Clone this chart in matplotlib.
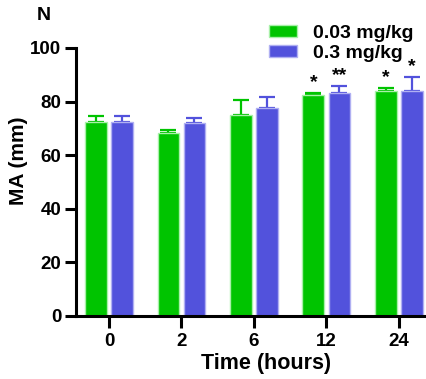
import matplotlib
matplotlib.use("Agg")
import matplotlib.pyplot as plt
import numpy as np

plt.rcParams['font.family'] = ['Liberation Sans', 'DejaVu Sans']
plt.rcParams['font.weight'] = 'bold'

# Data
times = ["0", "2", "6", "12", "24"]
low_dose_mean = [72.4, 68.4, 75.1, 82.5, 83.8]
low_dose_err = [2.3, 1.0, 5.6, 0.8, 1.3]
high_dose_mean = [72.4, 72.0, 77.7, 83.2, 84.0]
high_dose_err = [2.3, 1.9, 4.0, 2.6, 5.3]
low_dose_sig = ["", "", "", "*", "*"]
high_dose_sig = ["", "", "", "**", "*"]
series_labels = ["0.03 mg/kg", "0.3 mg/kg"]

green = "#00c400"
blue = "#5252dc"
green_edge = "#a8f0a8"
blue_edge = "#b0b0f2"

W, H = 427, 379
fig = plt.figure(figsize=(W / 100, H / 100), dpi=100)
ax = fig.add_axes([76 / W, (H - 316) / H, 362 / W, 268 / H])

x = np.arange(len(times))
bw = 0.30
off = 0.18

err_kw = dict(lw=1.6, capsize=6, capthick=1.6)
b1 = ax.bar(x - off, low_dose_mean, bw, color=green, edgecolor=green_edge,
            linewidth=1.0, label=series_labels[0], zorder=2)
ax.errorbar(x - off, low_dose_mean, yerr=[np.zeros(len(x)), low_dose_err],
            fmt="none", ecolor=green, zorder=1, **err_kw)
b2 = ax.bar(x + off, high_dose_mean, bw, color=blue, edgecolor=blue_edge,
            linewidth=1.0, label=series_labels[1], zorder=2)
ax.errorbar(x + off, high_dose_mean, yerr=[np.zeros(len(x)), high_dose_err],
            fmt="none", ecolor=blue, zorder=1, **err_kw)

for xi, m, e, s in zip(x - off, low_dose_mean, low_dose_err, low_dose_sig):
    if s:
        ax.text(xi, m + e + 0.6, s, ha="center", va="bottom", fontsize=14,
                fontweight="bold")
for xi, m, e, s in zip(x + off, high_dose_mean, high_dose_err, high_dose_sig):
    if s:
        ax.text(xi, m + e + 0.6, s, ha="center", va="bottom", fontsize=14,
                fontweight="bold")

ax.set_xlim(-0.455, 4.54)
ax.set_ylim(0, 100)
ax.set_xticks(x)
ax.set_xticklabels(times)
ax.set_yticks([0, 20, 40, 60, 80, 100])

for side in ["top", "right"]:
    ax.spines[side].set_visible(False)
for side in ["left", "bottom"]:
    ax.spines[side].set_linewidth(2.2)

ax.tick_params(axis="y", length=8, width=2.2, pad=2.5, labelsize=13.5)
ax.tick_params(axis="x", length=8.6, width=2.2, pad=4, labelsize=13.5)
for lab in ax.get_xticklabels() + ax.get_yticklabels():
    lab.set_fontweight("bold")

ax.set_ylabel("MA (mm)", fontsize=15, fontweight="bold")
ax.yaxis.set_label_coords((28 - 76) / 362, 0.58)
ax.set_xlabel("Time (hours)", fontsize=15.5, fontweight="bold")
ax.xaxis.set_label_coords((266 - 76) / 362, -0.137)

fig.text(37 / W, 1 - 15 / H, "N", fontsize=14, fontweight="bold",
         ha="left", va="center")

leg = ax.legend(handles=[b1, b2], loc="upper left",
                bbox_to_anchor=(269 / W, 1 - 24.5 / H),
                bbox_transform=fig.transFigure, frameon=False,
                fontsize=14, handlelength=1.44, handleheight=0.62,
                handletextpad=0.82, labelspacing=0.15, borderpad=0,
                borderaxespad=0)
for t in leg.get_texts():
    t.set_fontweight("bold")

fig.savefig("out.png", dpi=100)
